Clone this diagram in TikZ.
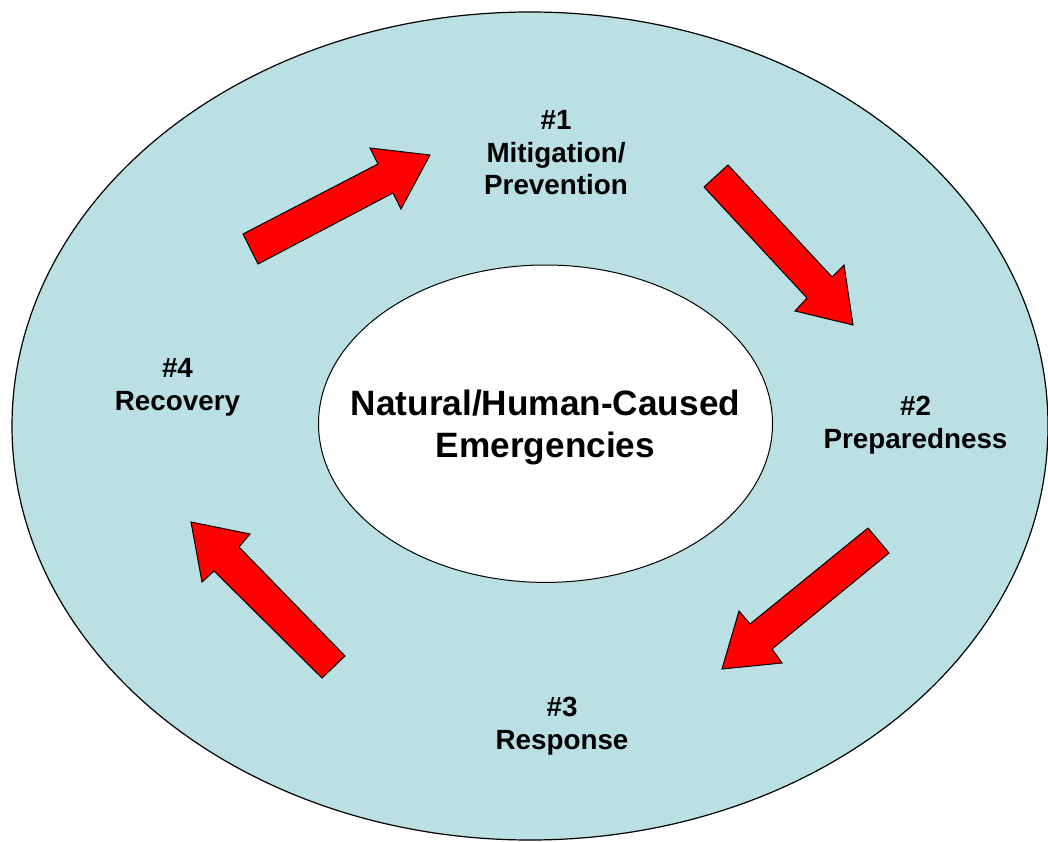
\documentclass[tikz,border=0pt]{standalone}
\usepackage{fontspec}
\setmainfont{Liberation Sans}
\definecolor{ringblue}{RGB}{186,224,227}
\definecolor{arrowred}{RGB}{255,0,0}
\tikzset{
  ring/.style={draw=black, line width=1.2pt, fill=ringblue},
  core/.style={draw=black, line width=1pt, fill=white},
  blockarrow/.style={draw=black, line width=1pt, fill=arrowred, line join=miter},
  phase/.style={align=center, anchor=base, inner sep=0pt, font=\bfseries\fontsize{27.8}{32.5}\selectfont},
  coretext/.style={align=center, anchor=base, inner sep=0pt, font=\bfseries\fontsize{35.2}{42}\selectfont}
}
\begin{document}
\begin{tikzpicture}[x=1pt,y=-1pt]
\useasboundingbox (0,0) rectangle (1048,842);
% outer ring
\path[ring] (530,426) ellipse [x radius=518, y radius=414];
% inner ellipse
\path[core] (545.5,423.7) ellipse [x radius=227, y radius=158.7];
% block arrows
\path[blockarrow] (243,234) -- (378,164) -- (370,148) -- (430,155) -- (401,209) -- (393,193) -- (258,264) -- cycle;
\path[blockarrow] (728,165) -- (832,277) -- (844,265) -- (853,325) -- (795,311) -- (807,298) -- (704,187) -- cycle;
\path[blockarrow] (889,553) -- (772,649) -- (782,663) -- (722,669) -- (739,611) -- (750,624) -- (868,528) -- cycle;
\path[blockarrow] (322,678) -- (214,571) -- (202,582) -- (191,522) -- (250,534) -- (239,547) -- (345,656) -- cycle;
% labels (anchor base = baseline of last line)
\node[coretext] (core) at (545.5,457) {Natural/Human-Caused\\Emergencies};
\node[phase] (p1) at (556,195) {\#1\\Mitigation/\\Prevention};
\node[phase] (p2) at (915.5,448.3) {\#2\\Preparedness};
\node[phase] (p3) at (562,749.3) {\#3\\Response};
\node[phase] (p4) at (177.5,410) {\#4\\Recovery};
\end{tikzpicture}
\end{document}
